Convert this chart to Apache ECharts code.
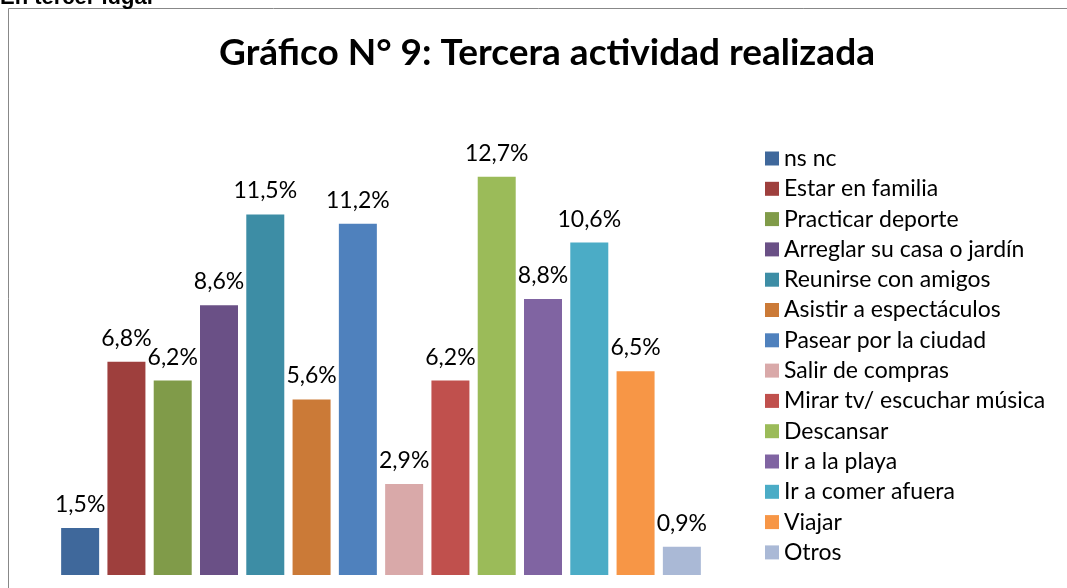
<!DOCTYPE html>
<html>
<head>
<meta charset="utf-8">
<script src="https://cdn.jsdelivr.net/npm/echarts@6/dist/echarts.min.js"></script>
<style>
  html, body { margin: 0; padding: 0; background: #fff; }
  #chart { width: 1067px; height: 588px; }
</style>
</head>
<body>
<div id="chart"></div>
<script>
const actividades = [
  "ns nc", "Estar en familia", "Practicar deporte", "Arreglar su casa o jardín",
  "Reunirse con amigos", "Asistir a espectáculos", "Pasear por la ciudad",
  "Salir de compras", "Mirar tv/ escuchar música", "Descansar", "Ir a la playa",
  "Ir a comer afuera", "Viajar", "Otros"
];
const porcentajes = [1.5, 6.8, 6.2, 8.6, 11.5, 5.6, 11.2, 2.9, 6.2, 12.7, 8.8, 10.6, 6.5, 0.9];
const colores = [
  "#3F689B", "#9E3F3D", "#809B49", "#6A5086", "#3D8DA5", "#CB7A37", "#4F81BD",
  "#D9A9A9", "#C0504D", "#9BBB59", "#8064A2", "#4BACC6", "#F79646", "#AAB9D6"
];

const chart = echarts.init(document.getElementById("chart"));

// una serie por actividad, cada una en su propia posición
const series = actividades.map((nombre, i) => ({
  name: nombre,
  type: "bar",
  stack: "total",
  barWidth: 38,
  itemStyle: { color: colores[i] },
  label: {
    show: true,
    position: "top",
    distance: 12,
    color: "#000",
    fontFamily: "Lato",
    fontSize: 23,
    formatter: p => String(p.value).replace(".", ",") + "%"
  },
  data: actividades.map((_, j) => (j === i ? porcentajes[i] : "-"))
}));

chart.setOption({
  animation: false,
  title: {
    text: "Gráfico N° 9: Tercera actividad realizada",
    left: 542,
    textAlign: "center",
    top: 30,
    textStyle: { fontFamily: "Lato", fontWeight: "bold", fontSize: 37, color: "#000" }
  },
  legend: {
    orient: "vertical",
    left: 760,
    top: 142,
    itemWidth: 14,
    itemHeight: 14,
    itemGap: 7.3,
    icon: "rect",
    textStyle: { fontFamily: "Lato", fontSize: 23, color: "#000" },
    data: actividades
  },
  grid: { left: 57, right: 362, top: 136, bottom: 13 },
  xAxis: {
    type: "category",
    data: actividades,
    show: false
  },
  yAxis: {
    type: "value",
    min: 0,
    max: 14,
    show: false
  },
  graphic: [
    {
      type: "rect",
      shape: { x: 8.5, y: 8.5, width: 1200, height: 700 },
      style: { fill: "none", stroke: "#888", lineWidth: 1 }
    },
    {
      type: "text",
      x: 0,
      y: 9,
      style: {
        text: "En tercer lugar",
        font: "bold 22px 'Liberation Sans'",
        fill: "#000",
        verticalAlign: "bottom"
      }
    }
  ],
  series: series
});
</script>
</body>
</html>
